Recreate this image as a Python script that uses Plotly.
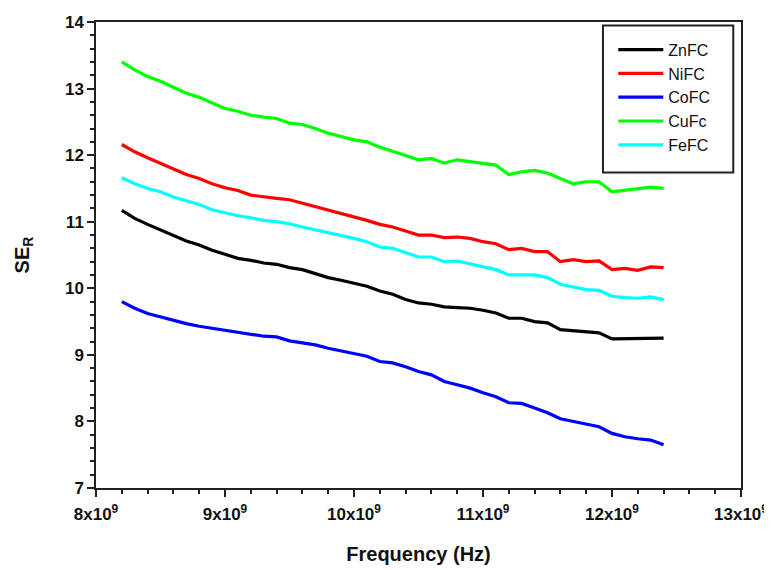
import plotly.graph_objects as go

freq_ghz = [8.2, 8.3, 8.4, 8.5, 8.6, 8.7, 8.8, 8.9, 9.0, 9.1, 9.2, 9.3, 9.4, 9.5, 9.6, 9.7, 9.8, 9.9,
            10.0, 10.1, 10.2, 10.3, 10.4, 10.5, 10.6, 10.7, 10.8, 10.9, 11.0, 11.1, 11.2, 11.3, 11.4,
            11.5, 11.6, 11.7, 11.8, 11.9, 12.0, 12.1, 12.2, 12.3, 12.4]

ZnFC = [11.17, 11.05, 10.96, 10.88, 10.80, 10.71, 10.65, 10.57, 10.51, 10.45, 10.42, 10.38, 10.36,
        10.31, 10.28, 10.22, 10.16, 10.12, 10.08, 10.03, 9.96, 9.91, 9.83, 9.78, 9.76, 9.72, 9.71,
        9.70, 9.67, 9.63, 9.55, 9.55, 9.50, 9.48, 9.38, 9.36, 9.35, 9.33, 9.24, 9.24, 9.24, 9.25, 9.25]
NiFC = [12.16, 12.05, 11.96, 11.88, 11.80, 11.71, 11.65, 11.57, 11.51, 11.47, 11.40, 11.37, 11.35,
        11.33, 11.28, 11.23, 11.17, 11.12, 11.08, 11.02, 10.96, 10.92, 10.86, 10.80, 10.80, 10.76,
        10.77, 10.75, 10.70, 10.67, 10.58, 10.60, 10.55, 10.55, 10.40, 10.43, 10.40, 10.41, 10.28,
        10.30, 10.27, 10.32, 10.31]
CoFC = [9.80, 9.70, 9.62, 9.57, 9.51, 9.47, 9.43, 9.40, 9.37, 9.33, 9.31, 9.28, 9.27, 9.21, 9.18,
        9.15, 9.10, 9.06, 9.03, 8.98, 8.90, 8.88, 8.82, 8.75, 8.70, 8.60, 8.55, 8.50, 8.43, 8.37,
        8.28, 8.27, 8.20, 8.13, 8.04, 8.00, 7.95, 7.92, 7.82, 7.77, 7.74, 7.72, 7.65]
CuFc = [13.40, 13.28, 13.18, 13.11, 13.02, 12.93, 12.87, 12.78, 12.70, 12.66, 12.60, 12.57, 12.55,
        12.48, 12.46, 12.40, 12.33, 12.28, 12.23, 12.20, 12.12, 12.06, 12.00, 11.93, 11.95, 11.88,
        11.93, 11.90, 11.87, 11.85, 11.71, 11.75, 11.77, 11.73, 11.65, 11.57, 11.60, 11.60, 11.45,
        11.47, 11.49, 11.52, 11.50]
FeFC = [11.66, 11.57, 11.50, 11.45, 11.37, 11.31, 11.26, 11.18, 11.13, 11.09, 11.06, 11.02, 11.00,
        10.97, 10.92, 10.88, 10.83, 10.80, 10.75, 10.70, 10.62, 10.60, 10.53, 10.47, 10.47, 10.40,
        10.41, 10.37, 10.32, 10.28, 10.20, 10.20, 10.20, 10.16, 10.06, 10.02, 9.98, 9.97, 9.88,
        9.86, 9.85, 9.87, 9.83]

series_names = ["ZnFC", "NiFC", "CoFC", "CuFc", "FeFC"]
series_values = [ZnFC, NiFC, CoFC, CuFc, FeFC]
series_colors = ["#000000", "#ff0000", "#0000ff", "#00ff00", "#00ffff"]

x_tick_vals = [8e9, 9e9, 10e9, 11e9, 12e9, 13e9]
x_tick_text = ["8x10<sup>9</sup>", "9x10<sup>9</sup>", "10x10<sup>9</sup>",
               "11x10<sup>9</sup>", "12x10<sup>9</sup>", "13x10<sup>9</sup>"]
y_tick_vals = [7, 8, 9, 10, 11, 12, 13, 14]

freq_hz = [f * 1e9 for f in freq_ghz]

fig = go.Figure()
for name, vals, col in zip(series_names, series_values, series_colors):
    fig.add_trace(go.Scatter(x=freq_hz, y=vals, mode="lines", name=name,
                             line=dict(color=col, width=3.2)))

font_family = "Arial, Liberation Sans, sans-serif"
axis_col = "#222222"
fig.update_layout(
    width=764, height=562,
    margin=dict(l=88, r=31, t=14, b=82),
    paper_bgcolor="white", plot_bgcolor="white",
    font=dict(family=font_family, color="#111111"),
    showlegend=True,
    legend=dict(x=0.802, y=0.977, xanchor="left", yanchor="top",
                borderwidth=0, bgcolor="rgba(0,0,0,0)",
                font=dict(size=16, family=font_family, color="#111111"),
                tracegroupgap=0, itemwidth=45),
    shapes=[dict(type="rect", xref="paper", yref="paper",
                 x0=0.786, x1=0.988, y0=0.677, y1=0.9925,
                 line=dict(color="#222222", width=2), fillcolor="rgba(0,0,0,0)",
                 layer="above")],
    xaxis=dict(range=[8e9, 13e9], tickvals=x_tick_vals, ticktext=x_tick_text,
               automargin=False,
               ticks="outside", ticklen=7, tickwidth=1.5, tickcolor=axis_col,
               ticklabelstandoff=3,
               showline=True, linecolor=axis_col, linewidth=1.5, mirror=True,
               showgrid=False, zeroline=False,
               tickfont=dict(size=17, weight="bold"),
               minor=dict(dtick=0.2e9, tick0=8e9, ticks="outside", ticklen=4,
                          tickwidth=1.5, tickcolor=axis_col, showgrid=False),
               title=dict(text="Frequency (Hz)", font=dict(size=20, weight="bold"),
                          standoff=24)),
    yaxis=dict(range=[7, 14], tickvals=y_tick_vals,
               automargin=False,
               ticks="outside", ticklen=7, tickwidth=1.5, tickcolor=axis_col,
               showline=True, linecolor=axis_col, linewidth=1.5, mirror=True,
               showgrid=False, zeroline=False,
               tickfont=dict(size=17, weight="bold"),
               minor=dict(dtick=0.2, tick0=7, ticks="outside", ticklen=4,
                          tickwidth=1.5, tickcolor=axis_col, showgrid=False),
               title=dict(text="SE<sub>R</sub>", font=dict(size=20, weight="bold"),
                          standoff=30)),
)

fig.write_html("out.html")
